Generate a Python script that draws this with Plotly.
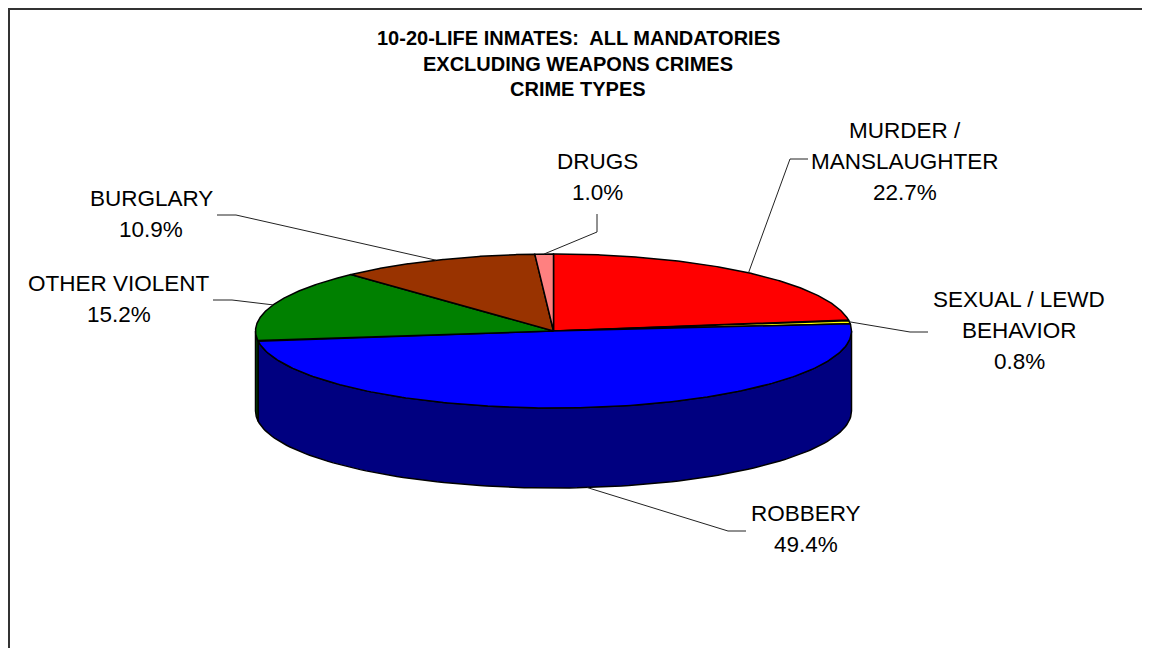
import numpy as np
import plotly.graph_objects as go

# ---------------- data ----------------
categories = ["MURDER /\nMANSLAUGHTER", "SEXUAL / LEWD\nBEHAVIOR", "ROBBERY",
              "OTHER VIOLENT", "BURGLARY", "DRUGS"]
percent = [22.7, 0.8, 49.4, 15.2, 10.9, 1.0]
top_colors = ["#FF0000", "#FFFF00", "#0000FF", "#008000", "#993300", "#FF8080"]
side_colors = ["#800000", "#808000", "#000080", "#004000", "#4D1A00", "#804040"]
title_lines = ["10-20-LIFE INMATES:\u00a0 ALL MANDATORIES",
               "EXCLUDING WEAPONS CRIMES",
               "CRIME TYPES"]

# ---------------- layout / style constants ----------------
# the page body has an 8px default margin, so the figure is drawn at (8, 8);
# axis ranges are chosen so that data units equal page pixels.
OFF = 8
W, H = 1150 - OFF, 648 - OFF
CX, CY, RX, RY, DEPTH = 553.5, 331.0, 298.0, 77.0, 80.0
FONT = "Arial, 'Liberation Sans', sans-serif"
# label positions: (center x, first line y), elbow and end of leader lines
label_pos = [(905, 130), (1019, 299.5), (806, 513), (119, 283), (151, 198), (597, 161.7)]
label_elbow = [(790, 159), (910, 332), (728, 531), (232, 300), (236, 215), (597, 232)]
label_end = [(808, 159), (928, 332), (746, 531), (213, 300), (217, 215), (597, 214)]
LINE_GAP = 31


def rim(theta_deg, dy=0.0):
    t = np.radians(theta_deg)
    return CX + RX * np.sin(t), CY - RY * np.cos(t) + dy


total = float(sum(percent))
edges = np.concatenate([[0.0], np.cumsum(percent)]) / total * 360.0

fig = go.Figure()

# side walls (only the front half, 90..270 deg clockwise from top, is visible)
for i in range(len(percent)):
    a, b = max(edges[i], 90.0), min(edges[i + 1], 270.0)
    if b <= a:
        continue
    th = np.linspace(a, b, 120)
    xt, yt = rim(th)
    xb, yb = rim(th[::-1], DEPTH)
    xs = np.concatenate([xt, xb, xt[:1]])
    ys = np.concatenate([yt, yb, yt[:1]])
    fig.add_trace(go.Scatter(x=xs, y=ys, mode="lines", fill="toself",
                             fillcolor=side_colors[i],
                             line=dict(color="black", width=1.5),
                             hoverinfo="skip", showlegend=False))

# top faces
for i in range(len(percent)):
    th = np.linspace(edges[i], edges[i + 1], 200)
    xt, yt = rim(th)
    xs = np.concatenate([[CX], xt, [CX]])
    ys = np.concatenate([[CY], yt, [CY]])
    fig.add_trace(go.Scatter(x=xs, y=ys, mode="lines", fill="toself",
                             fillcolor=top_colors[i],
                             line=dict(color="black", width=1.5),
                             name=categories[i].replace("\n", " "),
                             hovertemplate="%{fullData.name}<extra></extra>",
                             showlegend=False))

shapes = []
annotations = []

# leader lines from slice mid-angle to labels
for i in range(len(percent)):
    mid = (edges[i] + edges[i + 1]) / 2.0
    dy = DEPTH if 90.0 < mid < 270.0 else 0.0
    x0, y0 = rim(mid, dy)
    ex, ey = label_elbow[i]
    fx, fy = label_end[i]
    shapes.append(dict(type="path", xref="x", yref="y",
                       path=f"M {x0:.1f},{y0:.1f} L {ex},{ey} L {fx},{fy}",
                       line=dict(color="#222222", width=1)))

# data labels
for i in range(len(percent)):
    lines = categories[i].split("\n") + [f"{percent[i]:.1f}%"]
    lx, ly = label_pos[i]
    for k, txt in enumerate(lines):
        annotations.append(dict(x=lx, y=ly + k * LINE_GAP, xref="x", yref="y",
                                text=txt, showarrow=False,
                                xanchor="center", yanchor="middle",
                                font=dict(family=FONT, size=22.5, color="black")))

# title
for k, txt in enumerate(title_lines):
    annotations.append(dict(x=578, y=38 + k * 25.7, xref="x", yref="y",
                            text=f"<b>{txt}</b>", showarrow=False,
                            xanchor="center", yanchor="middle",
                            font=dict(family=FONT, size=20, color="black")))

# chart border (right and bottom edges lie outside the picture)
shapes.append(dict(type="rect", xref="x", yref="y", x0=9, y0=9, x1=1200, y1=720,
                   line=dict(color="#333333", width=2), fillcolor="rgba(0,0,0,0)"))

fig.update_layout(
    width=W, height=H, autosize=False,
    margin=dict(l=0, r=0, t=0, b=0, pad=0),
    paper_bgcolor="white", plot_bgcolor="white",
    xaxis=dict(range=[OFF, OFF + W], visible=False, fixedrange=True),
    yaxis=dict(range=[OFF + H, OFF], visible=False, fixedrange=True),
    shapes=shapes, annotations=annotations,
    showlegend=False,
)

fig.write_html("out.html")
